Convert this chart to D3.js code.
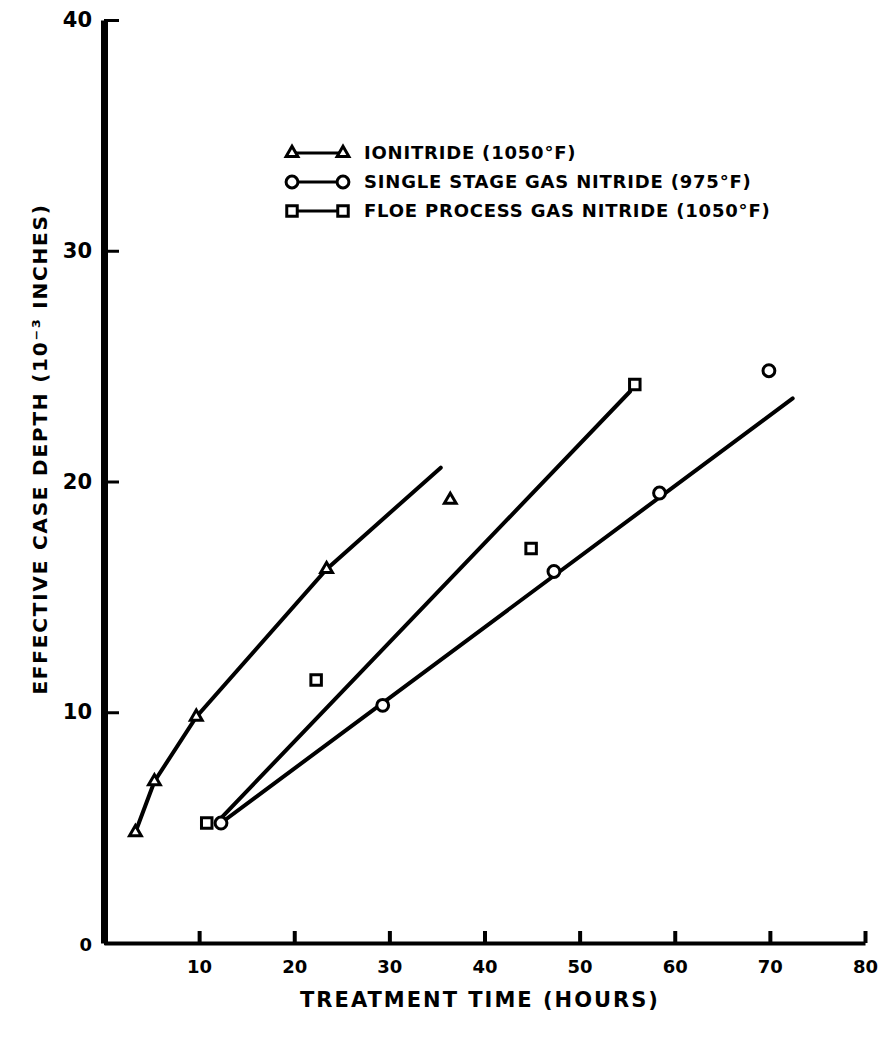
<!DOCTYPE html>
<html>
<head>
<meta charset="utf-8">
<script src="https://cdn.jsdelivr.net/npm/d3@7"></script>
<style>
  body { margin: 0; background: #fff; }
  svg { display: block; }
  text { font-family: "DejaVu Sans", sans-serif; font-weight: bold; fill: #000; }
</style>
</head>
<body>
<svg></svg>
<script>
var xTicks = [10, 20, 30, 40, 50, 60, 70, 80];
var yTicks = [0, 10, 20, 30, 40];

var ionHours = [3.3, 5.3, 9.7, 23.4, 36.4];
var ionDepth = [4.8, 7.0, 9.8, 16.2, 19.2];
var ionFitHours = [3.3, 5.3, 9.7, 23.4, 35.4];
var ionFitDepth = [4.8, 7.0, 9.8, 16.2, 20.6];

var gasHours = [12.3, 29.3, 47.3, 58.4, 69.9];
var gasDepth = [5.2, 10.3, 16.1, 19.5, 24.8];
var gasFitHours = [12.3, 72.4];
var gasFitDepth = [5.2, 23.6];

var floeHours = [10.8, 22.3, 44.9, 55.8];
var floeDepth = [5.2, 11.4, 17.1, 24.2];
var floeFitHours = [11.8, 55.3];
var floeFitDepth = [5.2, 23.9];

var legendLabels = ["IONITRIDE (1050°F)",
                    "SINGLE STAGE GAS NITRIDE (975°F)",
                    "FLOE PROCESS GAS NITRIDE (1050°F)"];

var width = 886, height = 1039;

var svg = d3.select("svg")
    .attr("width", width)
    .attr("height", height);

var x = d3.scaleLinear().domain([0, 80]).range([104, 865]);
var y = d3.scaleLinear().domain([0, 40]).range([943, 20]);

function zip(a, b) {
  return a.map(function(d, i) { return [d, b[i]]; });
}

var series = [
  {pts: zip(ionHours, ionDepth),   fit: zip(ionFitHours, ionFitDepth),   sym: d3.symbolTriangle, size: 60},
  {pts: zip(gasHours, gasDepth),   fit: zip(gasFitHours, gasFitDepth),   sym: d3.symbolCircle,   size: 110},
  {pts: zip(floeHours, floeDepth), fit: zip(floeFitHours, floeFitDepth), sym: d3.symbolSquare,   size: 110}
];

// axes
var xAxis = svg.append("g")
    .attr("transform", "translate(0," + y(0) + ")")
    .call(d3.axisBottom(x).tickValues(xTicks).tickSize(-12).tickSizeOuter(0).tickPadding(17));
xAxis.select(".domain").attr("stroke-width", 4);
xAxis.selectAll(".tick line").attr("stroke-width", 4);
xAxis.selectAll(".tick text").style("font-size", "18px");

var yAxis = svg.append("g")
    .attr("transform", "translate(" + x(0) + ",0)")
    .call(d3.axisLeft(y).tickValues(yTicks).tickSize(-15).tickSizeOuter(0).tickPadding(12));
yAxis.select(".domain").attr("stroke-width", 7);
yAxis.selectAll(".tick line").attr("stroke-width", 3);
yAxis.selectAll(".tick text").style("font-size", "21px");
yAxis.selectAll(".tick").filter(function(d) { return d === 0; }).select("text")
    .style("font-size", "18px").attr("dy", "0.4em");

// fitted lines
var line = d3.line()
    .x(function(d) { return x(d[0]); })
    .y(function(d) { return y(d[1]); });

svg.selectAll(".fit")
    .data(series)
    .enter()
    .append("path")
    .attr("class", "fit")
    .attr("d", function(d) { return line(d.fit); })
    .attr("fill", "none")
    .attr("stroke", "#000")
    .attr("stroke-width", 4)
    .attr("stroke-linecap", "round");

// data points
series.forEach(function(s) {
  svg.selectAll(null)
      .data(s.pts)
      .enter()
      .append("path")
      .attr("d", d3.symbol().type(s.sym).size(s.size))
      .attr("transform", function(d) { return "translate(" + x(d[0]) + "," + y(d[1]) + ")"; })
      .attr("fill", "#fff")
      .attr("stroke", "#000")
      .attr("stroke-width", 3);
});

// legend
var legend = svg.append("g");
var rowY = [153, 182, 211];
series.forEach(function(s, i) {
  var g = legend.append("g").attr("transform", "translate(0," + rowY[i] + ")");
  g.append("line").attr("x1", 292).attr("x2", 343).attr("stroke", "#000").attr("stroke-width", 3);
  [292, 343].forEach(function(px) {
    g.append("path")
        .attr("d", d3.symbol().type(s.sym).size(s.size))
        .attr("transform", "translate(" + px + ",0)")
        .attr("fill", "#fff").attr("stroke", "#000").attr("stroke-width", 3);
  });
  g.append("text")
      .attr("x", 364)
      .attr("dy", "0.36em")
      .style("font-size", "18px")
      .style("letter-spacing", "0.8px")
      .text(legendLabels[i]);
});

// axis titles
svg.append("text")
    .attr("x", 480)
    .attr("y", 1007)
    .attr("text-anchor", "middle")
    .style("font-size", "21px")
    .style("letter-spacing", "2px")
    .text("TREATMENT TIME (HOURS)");

svg.append("text")
    .attr("transform", "translate(40,449) rotate(-90)")
    .attr("text-anchor", "middle")
    .attr("dy", "0.36em")
    .style("font-size", "20px")
    .style("letter-spacing", "1.8px")
    .text("EFFECTIVE CASE DEPTH (10⁻³ INCHES)");
</script>
</body>
</html>
